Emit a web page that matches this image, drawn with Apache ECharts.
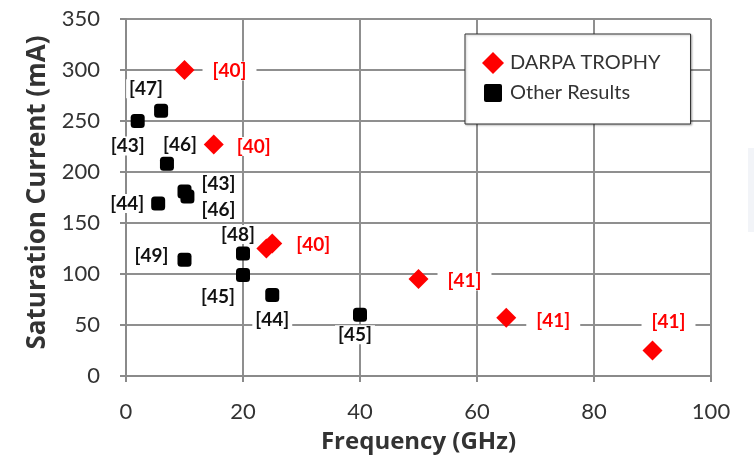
<!DOCTYPE html>
<html>
<head>
<meta charset="utf-8">
<script src="https://cdn.jsdelivr.net/npm/echarts@6/dist/echarts.min.js"></script>
<style>
  html, body { margin: 0; padding: 0; background: #fff; }
  #chart { width: 754px; height: 462px; }
</style>
</head>
<body>
<div id="chart"></div>
<script>
// DARPA TROPHY results: [frequency GHz, saturation current mA]
const darpaPoints = [[10, 300], [15, 227], [24, 125], [25, 130], [50, 95], [65, 57], [90, 25]];
const darpaRefs = ['[40]', '[40]', '', '[40]', '[41]', '[41]', '[41]'];

// other published results
const otherPoints = [[2, 250], [6, 260], [7, 208], [5.5, 169], [10, 181], [10.5, 176],
  [10, 114], [20, 120], [20, 99], [25, 79.5], [40, 60]];
const otherRefs = ['[43]', '[47]', '[46]', '[44]', '[43]', '[46]', '[49]', '[48]', '[45]', '[44]', '[45]'];

const xTicks = [0, 20, 40, 60, 80, 100];
const yTicks = [0, 50, 100, 150, 200, 250, 300, 350];

// label offsets from the marker centre (px)
const darpaLabelOffset = [[45, 1], [40, 2], [0, 0], [41, 1], [46, 2], [47, 3], [16, -29]];
const otherLabelOffset = [[-10, 25], [-15, -22], [13, -19], [-31, 0], [34, -8], [31, 13],
  [-33, -4], [-5, -19], [-25, 22], [0, 25], [-5, 20]];

const FONT = 'Lato, "Open Sans", sans-serif';
const TITLE_FONT = '"Open Sans", Lato, sans-serif';

function withLabels(points, refs, offsets, color, pad) {
  return points.map((p, i) => ({
    value: p,
    label: {
      show: refs[i] !== '',
      formatter: refs[i],
      position: 'inside',
      offset: offsets[i],
      color: color,
      fontFamily: FONT,
      fontWeight: 'bold',
      fontSize: 19,
      backgroundColor: '#fff',
      padding: pad
    }
  }));
}

const chart = echarts.init(document.getElementById('chart'));
chart.setOption({
  animation: false,
  backgroundColor: '#fff',
  grid: { left: 126, right: 43, top: 19, bottom: 86 },
  legend: {
    orient: 'vertical',
    left: 465,
    top: 34,
    padding: [18, 30, 20, 17],
    itemGap: 8,
    itemWidth: 22,
    itemHeight: 22,
    borderColor: '#333',
    borderWidth: 1,
    backgroundColor: '#fff',
    shadowColor: 'rgba(0,0,0,0.25)',
    shadowBlur: 2,
    shadowOffsetX: 1,
    shadowOffsetY: 1,
    textStyle: { fontFamily: FONT, fontSize: 20, color: '#333', padding: [2, 0, 0, 1] },
    data: [
      { name: 'DARPA TROPHY', icon: 'diamond' },
      { name: 'Other Results', icon: 'path://M0,0M22,22M4,2h14a2,2 0 0 1 2,2v14a2,2 0 0 1 -2,2h-14a2,2 0 0 1 -2,-2v-14a2,2 0 0 1 2,-2z' }
    ]
  },
  xAxis: {
    type: 'value',
    min: 0,
    max: 100,
    interval: 20,
    name: 'Frequency (GHz)',
    nameLocation: 'middle',
    nameGap: 54,
    nameTextStyle: { fontFamily: TITLE_FONT, fontSize: 24, fontWeight: 'bold', color: '#333' },
    axisLine: { show: true, lineStyle: { color: '#8a8a8a', width: 2 } },
    axisTick: { show: true, inside: false, length: 6, lineStyle: { color: '#8a8a8a', width: 2 } },
    axisLabel: {
      margin: 25, fontFamily: FONT, fontSize: 22, color: '#333',
      formatter: v => (xTicks.includes(v) ? String(v) : '')
    },
    splitLine: { show: true, lineStyle: { color: '#8f8f8f', width: 2 } }
  },
  yAxis: {
    type: 'value',
    min: 0,
    max: 350,
    interval: 50,
    name: 'Saturation Current (mA)',
    nameLocation: 'middle',
    nameGap: 75,
    nameTextStyle: {
      fontFamily: TITLE_FONT, fontSize: 26, fontWeight: 'bold', color: '#333',
      padding: [0, 0, 0, 10]
    },
    axisLine: { show: true, lineStyle: { color: '#8a8a8a', width: 2 } },
    axisTick: { show: true, inside: false, length: 6, lineStyle: { color: '#8a8a8a', width: 2 } },
    axisLabel: {
      margin: 26, fontFamily: FONT, fontSize: 22, color: '#333',
      formatter: v => (yTicks.includes(v) ? String(v) : '')
    },
    splitLine: { show: true, lineStyle: { color: '#8f8f8f', width: 2 } }
  },
  series: [
    {
      name: 'Other Results',
      type: 'scatter',
      symbol: 'roundRect',
      symbolSize: 14,
      itemStyle: { color: '#000', opacity: 1 },
      data: withLabels(otherPoints, otherRefs, otherLabelOffset, '#111', [0, 3]),
      z: 3
    },
    {
      name: 'DARPA TROPHY',
      type: 'scatter',
      symbol: 'diamond',
      symbolSize: [20, 20],
      itemStyle: { color: '#ff0000', opacity: 1 },
      data: withLabels(darpaPoints, darpaRefs, darpaLabelOffset, '#ff0000', [0, 10]),
      z: 4
    }
  ],
  graphic: [
    { type: 'rect', left: 748, top: 148, shape: { width: 6, height: 84 }, style: { fill: '#f2f4f8' } }
  ]
});
</script>
</body>
</html>
